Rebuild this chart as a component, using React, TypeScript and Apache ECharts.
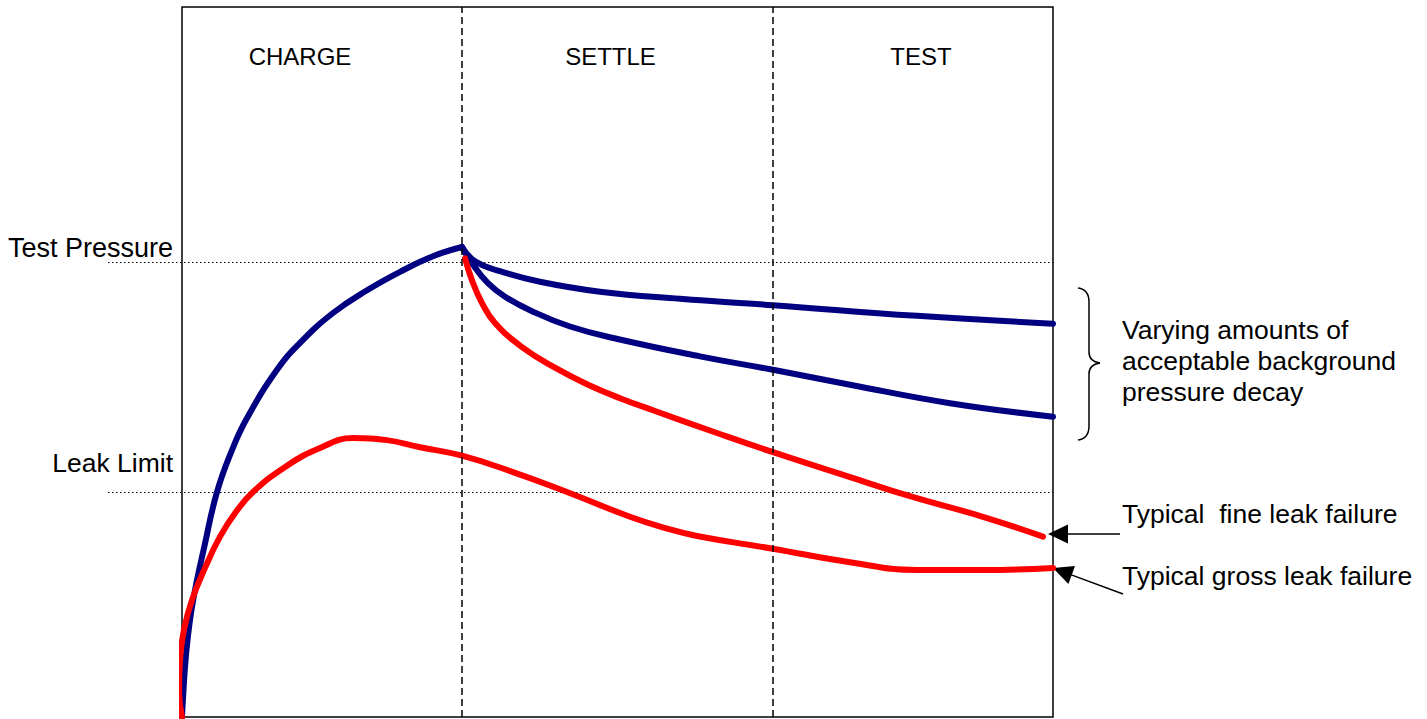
import React, { useEffect, useRef } from "react";
import * as echarts from "echarts";

// Phases (time axis, arbitrary units)
const phaseNames = ["CHARGE", "SETTLE", "TEST"];
const phaseBoundaries = [4.5, 9.5];
const timeMax = 14;
const pressureMax = 100;

// Reference levels
const testPressure = 64.1;
const leakLimit = 31.7;

// Curves: time values and pressure values
const chargeT = [0, 0.024, 0.064, 0.129, 0.225, 0.354, 0.563, 0.804, 1.045, 1.527, 1.897, 2.427, 2.974, 3.504, 4.034, 4.5];
const chargeP = [0, 3.8, 8.7, 13.7, 18.6, 23.8, 31.7, 37.6, 42.1, 48.9, 52.7, 56.9, 60.1, 62.7, 64.9, 66.2];

const smallDecayT = [4.5, 4.709, 5.111, 5.754, 6.719, 8.004, 9.499, 11.814, 14.0];
const smallDecayP = [66.2, 64.2, 62.8, 61.3, 59.9, 58.9, 58.0, 56.5, 55.4];

const largerDecayT = [4.5, 4.661, 4.918, 5.192, 5.593, 6.236, 7.072, 8.326, 9.499, 10.737, 12.344, 14.0];
const largerDecayP = [66.2, 63.9, 61.1, 59.2, 57.3, 55.0, 53.1, 50.8, 48.9, 46.8, 44.2, 42.3];

const fineLeakT = [4.549, 4.661, 4.822, 5.031, 5.465, 5.995, 6.526, 7.072, 7.603, 8.599, 9.499, 10.737, 11.701, 12.874, 13.839];
const fineLeakP = [64.6, 61.5, 58.3, 55.5, 52.1, 49.2, 46.8, 44.8, 43.1, 40.0, 37.3, 33.8, 31.1, 28.2, 25.4];

const grossLeakT = [0, -0.048, -0.032, 0.032, 0.161, 0.37, 0.611, 0.868, 1.141, 1.688, 2.218, 2.748, 3.295, 3.826, 4.5, 5.32, 6.188, 7.201, 7.731, 8.278, 9.499, 10.737, 11.814, 12.874, 14.0];
const grossLeakP = [0, 3.8, 8.0, 12.3, 16.5, 21.0, 25.4, 28.9, 31.7, 35.4, 37.9, 39.3, 39.0, 38.0, 36.8, 34.5, 31.7, 28.2, 26.7, 25.5, 23.7, 21.8, 20.7, 20.7, 21.0];

const levelLabels = ["Test Pressure", "Leak Limit"];
const levelFontSizes = [27, 26.5];
const braceLabel = ["Varying amounts of", "acceptable background", "pressure decay"];
const fineLabel = "Typical  fine leak failure";
const grossLabel = "Typical gross leak failure";

const FONT = "'Liberation Sans', Arial, sans-serif";
const NAVY = "#000080";
const RED = "#ff0000";

const braceD =
  "M0,0 C8,1 11,6 11,14 L11,64 C11,70 15,74 22,75 C15,76 11,80 11,86 L11,138 C11,146 8,151 0,152";
try {
  echarts.graphic.registerShape("brace", echarts.graphic.extendPath(braceD, {}) as any);
} catch (e) {}

const zip = (t: number[], p: number[]) => t.map((v, i) => [v, p[i]]);

function lineSeries(t: number[], p: number[], color: string, extra: any = {}) {
  return {
    type: "line",
    data: zip(t, p),
    smooth: 0.45,
    showSymbol: false,
    symbol: "none",
    silent: true,
    lineStyle: { color, width: 6, cap: "round", join: "round" },
    z: 3,
    ...extra,
  };
}

export default function App() {
  const ref = useRef<HTMLDivElement>(null);
  useEffect(() => {
    if (!ref.current) return;
    const chart = echarts.init(ref.current, null, { renderer: "svg" });
    const option: any = {
      animation: false,
      grid: {
        left: 182, right: 374, top: 7, bottom: 2,
        show: true, borderColor: "#000", borderWidth: 1.5, backgroundColor: "transparent",
      },
      xAxis: {
        type: "value", min: 0, max: timeMax,
        axisLine: { show: false }, axisTick: { show: false },
        axisLabel: { show: false }, splitLine: { show: false },
      },
      yAxis: {
        type: "value", min: 0, max: pressureMax,
        axisLine: { show: false }, axisTick: { show: false },
        axisLabel: { show: false }, splitLine: { show: false },
      },
      series: [
        {
          type: "line",
          data: [],
          silent: true,
          markLine: {
            silent: true,
            symbol: "none",
            label: { show: false },
            lineStyle: { color: "#000", width: 1.5, type: [7, 4] },
            data: phaseBoundaries.map((x) => ({ xAxis: x })),
          },
        },
        lineSeries(chargeT, chargeP, NAVY),
        lineSeries(smallDecayT, smallDecayP, NAVY),
        lineSeries(largerDecayT, largerDecayP, NAVY),
        lineSeries(fineLeakT, fineLeakP, RED, { z: 4 }),
        lineSeries(grossLeakT, grossLeakP, RED, { z: 4, clip: false }),
      ],
    };
    chart.setOption(option);

    const px = (t: number, p: number) =>
      chart.convertToPixel({ gridIndex: 0 }, [t, p]) as number[];
    const xRight = px(timeMax, 0)[0];
    const bounds = [0, ...phaseBoundaries, timeMax];
    const headerOffsets = [-22, -7, 8];

    const graphic: any[] = [];
    [testPressure, leakLimit].forEach((v, i) => {
      const y = Math.round(px(0, v)[1]) + 0.5;
      graphic.push({
        type: "line",
        z: 1,
        shape: { x1: 108, y1: y, x2: xRight, y2: y },
        style: { stroke: "#000", lineWidth: 1, lineDash: [1.5, 2.5] },
      });
      graphic.push({
        type: "text",
        x: 173,
        y: y - (i === 0 ? 14.5 : 30),
        style: {
          text: levelLabels[i], font: `${levelFontSizes[i]}px ${FONT}`, fill: "#000",
          textAlign: "right", textVerticalAlign: "middle",
        },
      });
    });
    phaseNames.forEach((name, i) => {
      const cx = (px(bounds[i], 0)[0] + px(bounds[i + 1], 0)[0]) / 2 + headerOffsets[i];
      graphic.push({
        type: "text",
        x: cx,
        y: 56,
        style: {
          text: name, font: `24px ${FONT}`, fill: "#000",
          textAlign: "center", textVerticalAlign: "middle",
        },
      });
    });
    graphic.push({
      type: "brace",
      x: xRight + 25,
      y: 288,
      style: { stroke: "#000", fill: "none", lineWidth: 1.5 },
    });
    braceLabel.forEach((t, i) => {
      graphic.push({
        type: "text",
        x: 1122,
        y: 330 + i * 31,
        style: { text: t, font: `26.5px ${FONT}`, fill: "#000", textVerticalAlign: "middle" },
      });
    });
    const fineY = 534;
    graphic.push({
      type: "line",
      shape: { x1: 1120, y1: fineY, x2: 1064, y2: fineY },
      style: { stroke: "#000", lineWidth: 1.5 },
    });
    graphic.push({
      type: "polygon",
      shape: { points: [[1048, fineY], [1068, fineY - 9.5], [1068, fineY + 9.5]] },
      style: { fill: "#000" },
    });
    graphic.push({
      type: "line",
      shape: { x1: 1123, y1: 594, x2: 1068, y2: 573.6 },
      style: { stroke: "#000", lineWidth: 1.5 },
    });
    graphic.push({
      type: "polygon",
      shape: { points: [[1053, 568], [1075, 566.1], [1068.4, 583.9]] },
      style: { fill: "#000" },
    });
    graphic.push({
      type: "text",
      x: 1122,
      y: 514,
      style: { text: fineLabel, font: `26.5px ${FONT}`, fill: "#000", textVerticalAlign: "middle" },
    });
    graphic.push({
      type: "text",
      x: 1122,
      y: 576,
      style: { text: grossLabel, font: `26.5px ${FONT}`, fill: "#000", textVerticalAlign: "middle" },
    });
    chart.setOption({ graphic });

    return () => chart.dispose();
  }, []);
  return (
    <div
      ref={ref}
      style={{ position: "absolute", left: 0, top: 0, width: 1427, height: 719, background: "#fff" }}
    />
  );
}
